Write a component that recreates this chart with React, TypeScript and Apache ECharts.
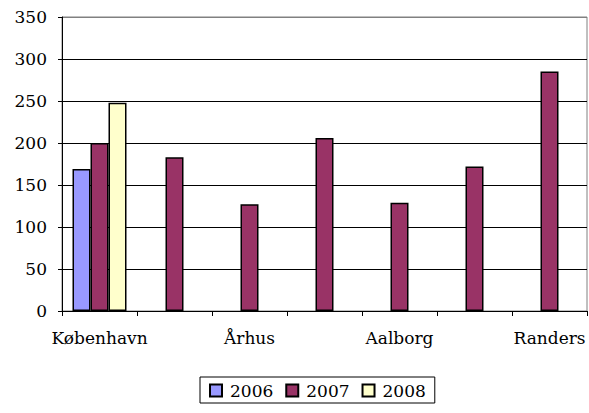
import React, { useEffect, useRef } from "react";
import * as echarts from "echarts";

const categories = ["København", "", "Århus", "", "Aalborg", "", "Randers"];
const values2006 = [169, null, null, null, null, null, null];
const values2007 = [200, 183, 127, 206, 129, 172, 285];
const values2008 = [248, null, null, null, null, null, null];
const seriesNames = ["2006", "2007", "2008"];

const FONT = "DejaVu Serif";

export default function App() {
  const ref = useRef<HTMLDivElement>(null);
  useEffect(() => {
    if (!ref.current) return;
    const chart = echarts.init(ref.current, undefined, { renderer: "svg" });
    const colors = ["#9999FF", "#993366", "#FFFFCC"];
    const data = [values2006, values2007, values2008];
    chart.setOption({
      animation: false,
      backgroundColor: "#ffffff",
      grid: {
        left: 62,
        right: 2,
        top: 17,
        bottom: 102,
        show: true,
        borderColor: "#808080",
        borderWidth: 1,
        containLabel: false,
      },
      legend: {
        data: seriesNames,
        left: 200,
        top: 377,
        padding: [5, 9, 4, 9],
        itemGap: 12,
        itemWidth: 12,
        itemHeight: 12,
        icon: "rect",
        borderColor: "#000",
        borderWidth: 1,
        textStyle: { fontFamily: FONT, fontSize: 17, color: "#000", padding: [0, 0, 0, 3] },
      },
      xAxis: {
        type: "category",
        data: categories,
        boundaryGap: true,
        axisLine: { show: true, lineStyle: { color: "#000", width: 1 } },
        axisTick: { show: true, interval: 0, length: 5, alignWithLabel: false, lineStyle: { color: "#000" } },
        axisLabel: { interval: 0, margin: 18, color: "#000", fontFamily: FONT, fontSize: 17 },
        splitLine: { show: false },
      },
      yAxis: {
        type: "value",
        min: 0,
        max: 350,
        interval: 50,
        axisLine: { show: true, lineStyle: { color: "#000", width: 1 } },
        axisTick: { show: true, length: 4, lineStyle: { color: "#000" } },
        axisLabel: { margin: 15, color: "#000", fontFamily: FONT, fontSize: 17 },
        splitLine: {
          show: true,
          lineStyle: {
            color: ["#000", "#000", "#000", "#000", "#000", "#000", "#000", "#808080"],
            width: 1,
          },
        },
      },
      series: seriesNames.map((name, i) => ({
        name,
        type: "bar",
        data: data[i],
        barWidth: 18,
        barGap: "0%",
        itemStyle: { color: colors[i], borderColor: "#000", borderWidth: 1.5 },
      })),
    });
    return () => chart.dispose();
  }, []);
  return (
    <div
      ref={ref}
      style={{ position: "fixed", left: 0, top: 0, width: 589, height: 413 }}
    />
  );
}
